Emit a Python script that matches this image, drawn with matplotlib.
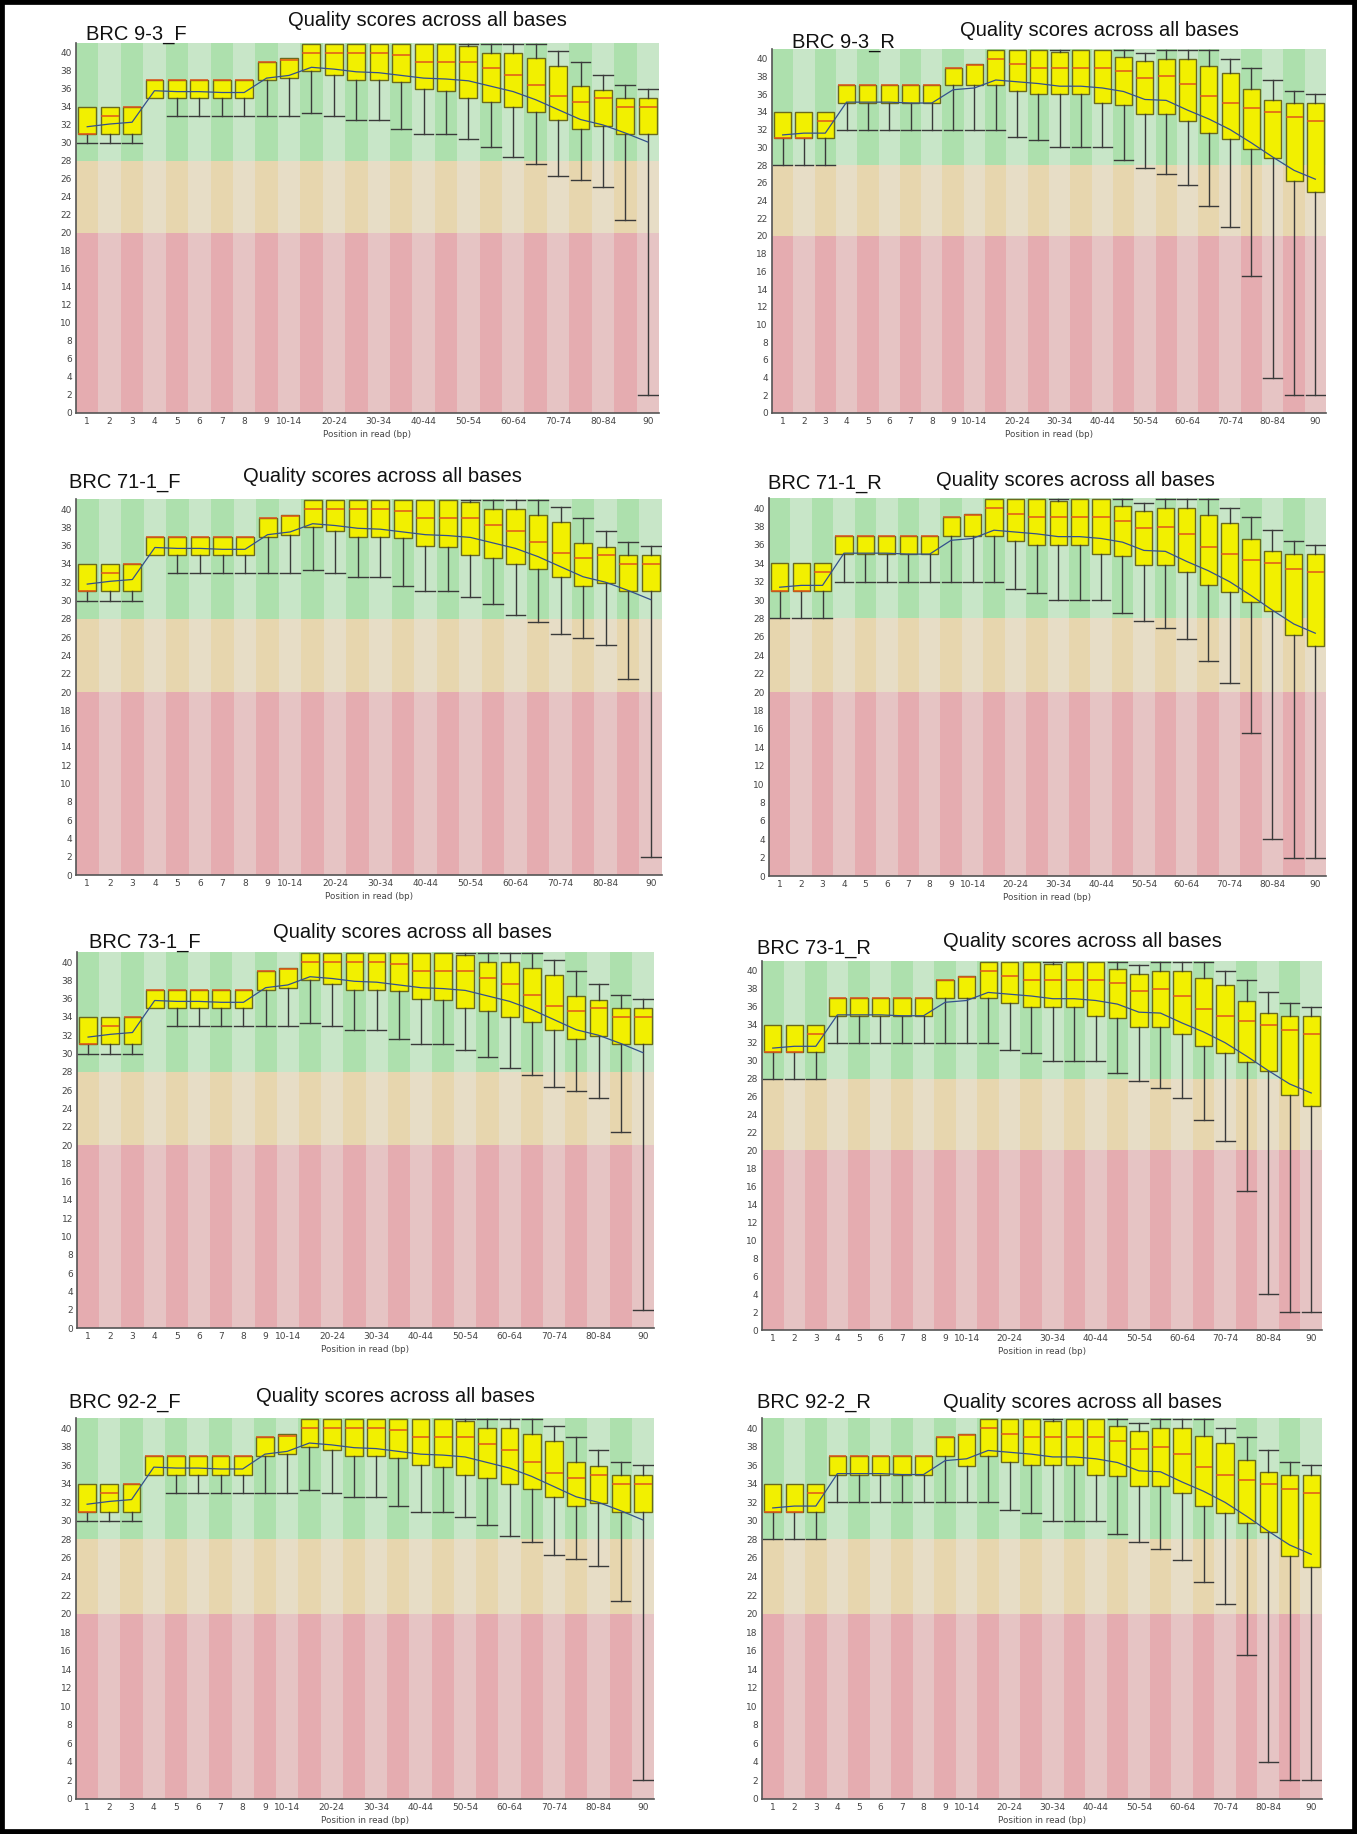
import matplotlib
matplotlib.use("Agg")
import matplotlib.pyplot as plt
from matplotlib.patches import Rectangle

FIG_W, FIG_H = 1357, 1834

# x categories (FastQC bins)
POSITIONS = ["1", "2", "3", "4", "5", "6", "7", "8", "9",
             "10-14", "15-19", "20-24", "25-29", "30-34", "35-39",
             "40-44", "45-49", "50-54", "55-59", "60-64", "65-69",
             "70-74", "75-79", "80-84", "85-89", "90"]
TICK_LABELS = ["1", "2", "3", "4", "5", "6", "7", "8", "9",
               "10-14", "", "20-24", "", "30-34", "", "40-44", "",
               "50-54", "", "60-64", "", "70-74", "", "80-84", "", "90"]
Y_TICKS = list(range(0, 41, 2))

# forward reads
F_LOW = [30, 30, 30, 35, 33, 33, 33, 33, 33, 33, 33.3, 33, 32.6, 32.6, 31.6, 31,
         31, 30.4, 29.6, 28.4, 27.7, 26.3, 25.9, 25.1, 21.4, 2]
F_Q1 = [31, 31, 31, 35, 35, 35, 35, 35, 37, 37.2, 38, 37.6, 37, 37, 36.8, 36,
        35.8, 35, 34.6, 34, 33.4, 32.6, 31.6, 31.9, 31, 31]
F_MED = [31, 33, 34, 37, 37, 37, 37, 37, 39, 39.2, 40, 40, 40, 40, 39.8, 39,
         39, 39, 38.3, 37.6, 36.4, 35.2, 34.6, 35, 34, 34]
F_Q3 = [34, 34, 34, 37, 37, 37, 37, 37, 39, 39.4, 41, 41, 41, 41, 41, 41,
        41, 40.8, 40, 40, 39.4, 38.6, 36.3, 35.9, 35, 35]
F_HIGH = [34, 34, 34, 37, 37, 37, 37, 37, 39, 39.4, 41, 41, 41, 41, 41, 41,
          41, 41, 41, 41, 41, 40.2, 39, 37.6, 36.4, 36]
F_MEAN = [31.8, 32.1, 32.3, 35.8, 35.7, 35.7, 35.6, 35.6, 37.2, 37.5, 38.4, 38.2,
          37.9, 37.8, 37.5, 37.2, 37.1, 36.9, 36.3, 35.7, 34.8, 33.7, 32.6, 32.0,
          31.1, 30.1]

# reverse reads
R_LOW = [28, 28, 28, 32, 32, 32, 32, 32, 32, 32, 32, 31.2, 30.8, 30, 30, 30,
         28.6, 27.7, 27, 25.8, 23.4, 21, 15.5, 4, 2, 2]
R_Q1 = [31, 31, 31, 35, 35, 35, 35, 35, 37, 37, 37, 36.4, 36, 36, 36, 35,
        34.8, 33.8, 33.8, 33, 31.6, 30.9, 29.8, 28.8, 26.2, 25]
R_Q1_922 = [31, 31, 31, 35, 35, 35, 35, 35, 37, 35.9, 37, 36.4, 36, 36, 36, 35,
            34.8, 33.8, 33.8, 33, 31.6, 30.9, 29.8, 28.8, 26.2, 25]
R_MED = [31, 31, 33, 37, 37, 37, 37, 37, 39, 39.3, 40, 39.4, 39, 39, 39, 39,
         38.6, 37.8, 38, 37.2, 35.8, 35, 34.4, 34, 33.4, 33]
R_Q3 = [34, 34, 34, 37, 37, 37, 37, 37, 39, 39.4, 41, 41, 41, 40.8, 41, 41,
        40.2, 39.7, 40, 40, 39.2, 38.4, 36.6, 35.3, 35, 35]
R_HIGH = [34, 34, 34, 37, 37, 37, 37, 37, 39, 39.4, 41, 41, 41, 41, 41, 41,
          41, 40.6, 41, 41, 41, 40, 39, 37.6, 36.4, 36]
R_MEAN = [31.4, 31.6, 31.6, 35.1, 35.1, 35.1, 35.0, 35.0, 36.5, 36.7, 37.6, 37.4,
          37.2, 36.9, 36.9, 36.7, 36.3, 35.4, 35.3, 34.2, 33.2, 32.0, 30.5, 28.9,
          27.4, 26.4]

SAMPLES = ["BRC 9-3_F", "BRC 9-3_R", "BRC 71-1_F", "BRC 71-1_R",
           "BRC 73-1_F", "BRC 73-1_R", "BRC 92-2_F", "BRC 92-2_R"]
TITLE = "Quality scores across all bases"

F_SET = (F_LOW, F_Q1, F_MED, F_Q3, F_HIGH, F_MEAN)
R_SET = (R_LOW, R_Q1, R_MED, R_Q3, R_HIGH, R_MEAN)
R_SET_922 = (R_LOW, R_Q1_922, R_MED, R_Q3, R_HIGH, R_MEAN)
SAMPLE_DATA = [F_SET, R_SET, F_SET, R_SET, F_SET, R_SET, F_SET, R_SET_922]

# layout in pixels: axes (left, right, top, bottom), title centre, label left/centre
AX_PX = [(76, 659, 43, 413), (772, 1326, 49, 413),
         (76, 662, 499, 875), (769, 1326, 498, 876),
         (77, 654, 952, 1328), (762, 1322, 961, 1330),
         (76, 654, 1418, 1799), (762, 1322, 1418, 1799)]
TITLE_PX = [(427, 21), (1099, 30), (382, 476), (1075, 481),
            (412, 933), (1082, 941), (395, 1396), (1082, 1402)]
LABEL_PX = [(86, 35), (792, 43), (69, 483), (768, 484),
            (89, 942), (757, 948), (69, 1403), (757, 1402)]

ZONES = [(0, 20, "#e5acb0", "#e6c4c4"),
         (20, 28, "#e7d6ae", "#e7ddc6"),
         (28, 41.2, "#ade0ad", "#c8e6c8")]
YMAX = 41.1


def fx(px):
    return px / FIG_W


def fy(py):
    return 1 - py / FIG_H


def draw_panel(ax, data):
    low, q1, med, q3, high, mean = data
    xs = list(range(len(POSITIONS)))
    # striped background
    for lo, hi, dark, light in ZONES:
        cols = [dark if i % 2 == 0 else light for i in xs]
        ax.bar(xs, hi - lo, bottom=lo, width=1.0, color=cols, linewidth=0, zorder=0)

    stats = []
    for i, name in enumerate(POSITIONS):
        stats.append({"label": name, "whislo": low[i], "q1": q1[i], "med": med[i],
                      "q3": q3[i], "whishi": high[i], "fliers": []})
    art = ax.bxp(stats, positions=xs, widths=0.8, capwidths=0.88, patch_artist=True,
                 showfliers=False,
                 boxprops=dict(facecolor="#f2f000", edgecolor="#6a6a1e", linewidth=1.0),
                 medianprops=dict(color="#e0561c", linewidth=1.1),
                 whiskerprops=dict(color="#3a3a3a", linewidth=1.0),
                 capprops=dict(color="#3a3a3a", linewidth=1.0))
    for i in xs:
        if low[i] >= q1[i]:
            art["caps"][2 * i].set_visible(False)
        if high[i] <= q3[i]:
            art["caps"][2 * i + 1].set_visible(False)

    ax.plot(xs, mean, color="#34508c", linewidth=0.9, zorder=5)

    ax.set_xlim(-0.5, len(POSITIONS) - 0.5)
    ax.set_ylim(0, YMAX)
    ax.set_yticks(Y_TICKS)
    ax.set_yticklabels([str(v) for v in Y_TICKS])
    ax.set_xticks(xs)
    ax.set_xticklabels(TICK_LABELS)
    ax.tick_params(length=0, labelsize=6.5, colors="#444444", pad=3)
    ax.set_xlabel("Position in read (bp)", fontsize=6.3, color="#444444", labelpad=3)
    for side in ("top", "right"):
        ax.spines[side].set_visible(False)
    for side in ("left", "bottom"):
        ax.spines[side].set_color("#555555")
        ax.spines[side].set_linewidth(1.2)


fig = plt.figure(figsize=(FIG_W / 100, FIG_H / 100), dpi=100)
fig.patch.set_facecolor("white")

for k, name in enumerate(SAMPLES):
    left, right, top, bottom = AX_PX[k]
    ax = fig.add_axes([fx(left), fy(bottom), (right - left) / FIG_W, (bottom - top) / FIG_H])
    draw_panel(ax, SAMPLE_DATA[k])
    tx, ty = TITLE_PX[k]
    fig.text(fx(tx), fy(ty), TITLE, ha="center", va="center", fontsize=14.5,
             family="Liberation Sans", color="#111111")
    lx, ly = LABEL_PX[k]
    fig.text(fx(lx), fy(ly), name, ha="left", va="center", fontsize=14.5,
             family="Liberation Sans", color="#111111")

# heavy black frame round the whole figure
fig.patches.append(Rectangle((0, 0), 1, 1, transform=fig.transFigure, fill=False,
                             edgecolor="black", linewidth=7, zorder=10))

fig.savefig("out.png", dpi=100)
